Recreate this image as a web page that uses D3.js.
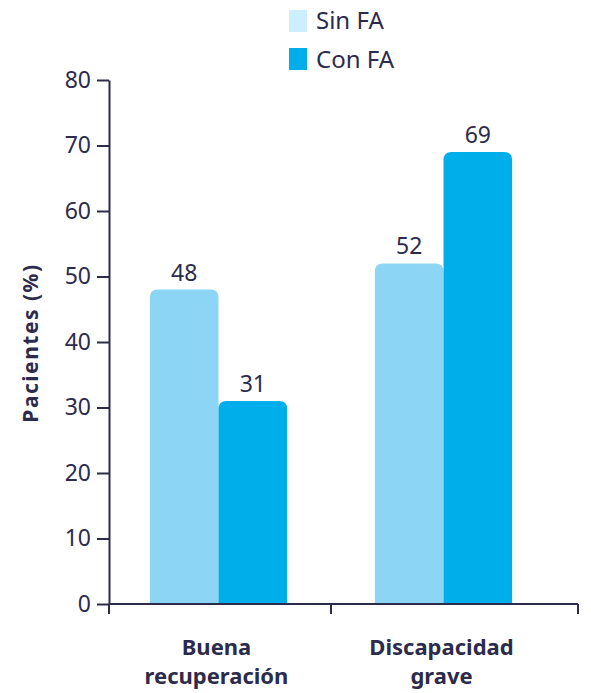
<!DOCTYPE html>
<html>
<head>
<meta charset="utf-8">
<script src="https://cdn.jsdelivr.net/npm/d3@7"></script>
<style>
  body { margin: 0; background: #fff; }
  text { font-family: "Noto Sans", sans-serif; fill: #2c2b4c; }
</style>
</head>
<body>
<script>
// data
const categories = ["Buena recuperación", "Discapacidad grave"];
const catLines = [["Buena", "recuperación"], ["Discapacidad", "grave"]];
const series = ["Sin FA", "Con FA"];
const sinFA = [48, 52];
const conFA = [31, 69];
const yTicks = [0, 10, 20, 30, 40, 50, 60, 70, 80];

const values = [sinFA, conFA];
const barColors = ["#8dd5f4", "#00aeea"];
const legendColors = ["#cdeefb", "#00aeea"];
const ink = "#2c2b4c";

let svg = d3.select("body").append("svg")
  .attr("width", 591)
  .attr("height", 693);

let y = d3.scaleLinear().domain([0, 80]).range([604, 80]);

let x0 = d3.scaleBand()
  .domain(categories)
  .range([106, 556])
  .paddingInner(0.39)
  .paddingOuter(0.195);

let x1 = d3.scaleBand()
  .domain(series)
  .range([0, x0.bandwidth()]);

// bars with rounded tops
let r = 8;
function barPath(xx, w, yTop, yBot) {
  return "M" + xx + "," + yBot +
    "V" + (yTop + r) +
    "Q" + xx + "," + yTop + " " + (xx + r) + "," + yTop +
    "H" + (xx + w - r) +
    "Q" + (xx + w) + "," + yTop + " " + (xx + w) + "," + (yTop + r) +
    "V" + yBot + "Z";
}

categories.forEach((c, ci) => {
  series.forEach((s, si) => {
    let v = values[si][ci];
    let bx = x0(c) + x1(s);
    svg.append("path")
      .attr("d", barPath(bx, x1.bandwidth(), y(v), y(0)))
      .attr("fill", barColors[si]);
    svg.append("text")
      .attr("x", bx + x1.bandwidth() / 2)
      .attr("y", y(v) - 9)
      .attr("text-anchor", "middle")
      .attr("font-size", 23)
      .text(v);
  });
});

// y axis
let yAxis = d3.axisLeft(y).tickValues(yTicks).tickSize(12).tickPadding(6).tickSizeOuter(0);
let gy = svg.append("g")
  .attr("transform", "translate(109,0)")
  .call(yAxis);
gy.selectAll("text").attr("font-size", 23).attr("fill", ink).attr("font-family", "Noto Sans");
gy.selectAll("line, path").attr("stroke", ink).attr("stroke-width", 2);

// x axis: ticks at band edges and end
let xEnd = 578;
let xTicks = [109, (x0(categories[0]) + x0.bandwidth() + x0(categories[1])) / 2, xEnd];
svg.append("line")
  .attr("x1", 109).attr("x2", xEnd)
  .attr("y1", y(0)).attr("y2", y(0))
  .attr("stroke", ink).attr("stroke-width", 2);
svg.selectAll(".xt").data(xTicks).enter().append("line")
  .attr("x1", d => d).attr("x2", d => d)
  .attr("y1", y(0)).attr("y2", y(0) + 10)
  .attr("stroke", ink).attr("stroke-width", 2);

// category labels
categories.forEach((c, ci) => {
  let cx = x0(c) + x0.bandwidth() / 2 - 2;
  let t = svg.append("text")
    .attr("x", cx)
    .attr("y", 655)
    .attr("text-anchor", "middle")
    .attr("font-size", 22)
    .attr("font-weight", "bold");
  catLines[ci].forEach((ln, li) => {
    t.append("tspan")
      .attr("x", cx)
      .attr("dy", li == 0 ? 0 : 29)
      .text(ln);
  });
});

// y title
svg.append("text")
  .attr("transform", "translate(38,343) rotate(-90)")
  .attr("text-anchor", "middle")
  .attr("font-size", 21)
  .attr("font-weight", "bold")
  .attr("letter-spacing", 1.5)
  .text("Pacientes (%)");

// legend
series.forEach((s, si) => {
  svg.append("rect")
    .attr("x", 289).attr("y", 10 + si * 38)
    .attr("width", 18).attr("height", 22)
    .attr("fill", legendColors[si]);
  svg.append("text")
    .attr("x", 316).attr("y", 29 + si * 39)
    .attr("font-size", 24)
    .text(s);
});
</script>
</body>
</html>
